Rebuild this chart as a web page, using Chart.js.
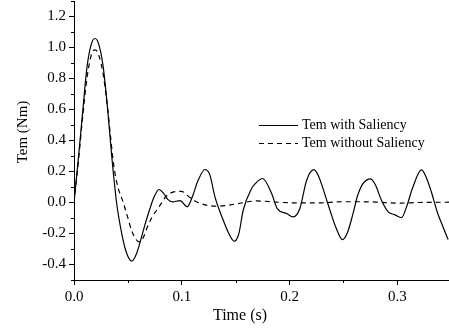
<!doctype html>
<html>

<head>
    <title>Tem</title>
    <script src="https://cdn.jsdelivr.net/npm/chart.js"></script>
    <style>
        body { margin: 0; background: #fff; }
    </style>
</head>

<body>

    <div style="width: 449px; height: 330px;">
        <canvas id="grafico"></canvas>
    </div>

    <script>

        // Tem with Saliency (linha cheia)
        const tempoCom = [0, 0.004, 0.008, 0.012, 0.016, 0.0195, 0.023, 0.027, 0.031, 0.035, 0.0395, 0.044, 0.048, 0.0535, 0.058, 0.062, 0.066, 0.070, 0.074, 0.0789, 0.083, 0.087, 0.0912, 0.0983, 0.105, 0.110, 0.115, 0.1215, 0.126, 0.1308, 0.1385, 0.143, 0.1487, 0.153, 0.157, 0.1648, 0.168, 0.175, 0.1834, 0.1886, 0.1973, 0.2034, 0.2096, 0.2159, 0.2226, 0.227, 0.232, 0.238, 0.243, 0.2492, 0.254, 0.259, 0.263, 0.268, 0.2752, 0.280, 0.285, 0.2916, 0.298, 0.304, 0.309, 0.314, 0.3225, 0.327, 0.332, 0.337, 0.342, 0.3472]
        const temCom = [0, 0.28, 0.58, 0.87, 1.02, 1.058, 1.02, 0.88, 0.62, 0.30, 0.0, -0.19, -0.31, -0.378, -0.33, -0.24, -0.14, -0.05, 0.03, 0.084, 0.06, 0.02, 0.004, 0.012, -0.028, 0.04, 0.14, 0.213, 0.18, 0.036, -0.114, -0.19, -0.25, -0.2, -0.05, 0.09, 0.12, 0.155, 0.058, -0.039, -0.071, -0.093, -0.039, 0.144, 0.212, 0.17, 0.07, -0.06, -0.16, -0.24, -0.19, -0.07, 0.04, 0.12, 0.152, 0.11, 0.02, -0.06, -0.08, -0.097, -0.02, 0.09, 0.21, 0.16, 0.06, -0.06, -0.15, -0.239]

        // Tem without Saliency (linha tracejada)
        const tempoSem = [0, 0.004, 0.008, 0.012, 0.016, 0.0198, 0.023, 0.027, 0.031, 0.034, 0.0365, 0.040, 0.0457, 0.050, 0.054, 0.0605, 0.064, 0.068, 0.072, 0.0789, 0.0865, 0.0995, 0.108, 0.115, 0.1324, 0.150, 0.1695, 0.194, 0.2096, 0.225, 0.250, 0.280, 0.300, 0.320, 0.348]
        const temSem = [0, 0.26, 0.55, 0.8, 0.95, 0.985, 0.95, 0.83, 0.62, 0.42, 0.26, 0.12, 0.0, -0.1, -0.19, -0.254, -0.23, -0.16, -0.1, -0.028, 0.047, 0.072, 0.03, 0.0, -0.024, -0.01, 0.01, 0.0, -0.003, -0.003, 0.005, 0.003, -0.004, 0.0, 0.002]

        const marcasX = [0, 0.1, 0.2, 0.3]
        const marcasY = [-0.4, -0.2, 0.0, 0.2, 0.4, 0.6, 0.8, 1.0, 1.2]

        const fonte = '"Liberation Serif", "Times New Roman", serif';

        function ehMarca(valor, lista) {
            return lista.some(m => Math.abs(m - valor) < 1e-6);
        }

        // ticks menores mais curtos + titulos dos eixos
        const ticksMenores = {
            id: 'ticksMenores',
            afterDraw(chart) {
                const ctx = chart.ctx;
                const sx = chart.scales.x, sy = chart.scales.y;
                ctx.save();
                ctx.strokeStyle = '#000';
                ctx.lineWidth = 1;
                ctx.beginPath();
                sx.ticks.forEach(t => {
                    if (ehMarca(t.value, marcasX)) return;
                    const px = Math.round(sx.getPixelForValue(t.value)) + 0.5;
                    ctx.moveTo(px, sy.bottom);
                    ctx.lineTo(px, sy.bottom + 3);
                });
                sy.ticks.forEach(t => {
                    if (ehMarca(t.value, marcasY)) return;
                    const py = Math.round(sy.getPixelForValue(t.value)) + 0.5;
                    ctx.moveTo(sx.left, py);
                    ctx.lineTo(sx.left - 3, py);
                });
                ctx.stroke();

                ctx.fillStyle = '#000';
                ctx.textAlign = 'center';
                ctx.textBaseline = 'middle';
                ctx.font = '16px ' + fonte;
                ctx.fillText('Time (s)', 240, 316);
                ctx.translate(23, 132);
                ctx.rotate(-Math.PI / 2);
                ctx.font = '15px ' + fonte;
                ctx.fillText('Tem (Nm)', 0, 0);
                ctx.restore();
            }
        };

        const legenda = {
            id: 'legenda',
            afterDraw(chart) {
                const ctx = chart.ctx;
                ctx.save();
                ctx.font = '14px ' + fonte;
                ctx.fillStyle = '#000';
                ctx.textBaseline = 'middle';
                chart.data.datasets.forEach((ds, i) => {
                    const yy = 125.5 + i * 18;
                    ctx.strokeStyle = '#000';
                    ctx.lineWidth = 1.2;
                    ctx.setLineDash(ds.borderDash || []);
                    ctx.beginPath();
                    ctx.moveTo(259, yy);
                    ctx.lineTo(298, yy);
                    ctx.stroke();
                    ctx.setLineDash([]);
                    ctx.fillText(ds.label, 302, yy);
                });
                ctx.restore();
            }
        };

        var grafico = new Chart(document.getElementById('grafico').getContext('2d'), {
            type: 'line',
            data: {
                datasets: [{
                    label: 'Tem with Saliency',
                    data: tempoCom.map((t, i) => ({ x: t, y: temCom[i] })),
                    borderColor: '#000',
                    borderWidth: 1.2,
                    pointRadius: 0,
                    cubicInterpolationMode: 'monotone'
                }, {
                    label: 'Tem without Saliency',
                    data: tempoSem.map((t, i) => ({ x: t, y: temSem[i] })),
                    borderColor: '#000',
                    borderWidth: 1.2,
                    borderDash: [5, 4],
                    pointRadius: 0,
                    cubicInterpolationMode: 'monotone'
                }]
            },
            options: {
                animation: false,
                responsive: true,
                maintainAspectRatio: false,
                layout: { padding: { top: 1, right: 0, left: 0, bottom: 0 } },
                plugins: {
                    legend: { display: false },
                    tooltip: { enabled: false }
                },
                scales: {
                    x: {
                        type: 'linear',
                        min: 0,
                        max: 0.348,
                        border: { color: '#000', width: 1 },
                        grid: {
                            drawOnChartArea: false,
                            tickLength: 5,
                            tickColor: (c) => ehMarca(c.tick.value, marcasX) ? '#000' : 'rgba(0,0,0,0)'
                        },
                        ticks: {
                            stepSize: 0.05,
                            includeBounds: false,
                            autoSkip: false,
                            maxRotation: 0,
                            padding: 3,
                            color: '#000',
                            font: { family: fonte, size: 15 },
                            callback: (v) => ehMarca(v, marcasX) ? v.toFixed(1) : ''
                        },
                        afterFit: (s) => { s.height = 50; s.paddingLeft = 0; s.paddingRight = 0; }
                    },
                    y: {
                        min: -0.5,
                        max: 1.3,
                        border: { color: '#000', width: 1 },
                        grid: {
                            drawOnChartArea: false,
                            tickLength: 5,
                            tickColor: (c) => ehMarca(c.tick.value, marcasY) ? '#000' : 'rgba(0,0,0,0)'
                        },
                        ticks: {
                            stepSize: 0.1,
                            autoSkip: false,
                            padding: 3,
                            color: '#000',
                            font: { family: fonte, size: 15 },
                            callback: (v) => ehMarca(v, marcasY) ? v.toFixed(1) : ''
                        },
                        afterFit: (s) => { s.width = 74; s.paddingTop = 0; s.paddingBottom = 0; }
                    }
                }
            },
            plugins: [ticksMenores, legenda]
        });
    </script>
</body>
</html>
